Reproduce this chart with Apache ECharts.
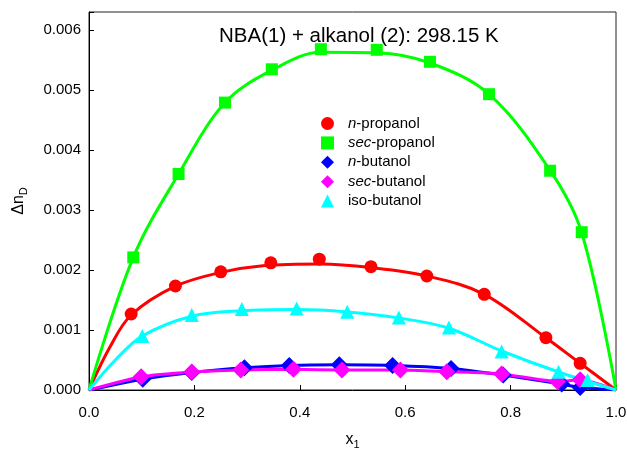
<!DOCTYPE html>
<html>
<head>
<meta charset="utf-8">
<script src="https://cdn.jsdelivr.net/npm/echarts@6/dist/echarts.min.js"></script>
<style>
html,body{margin:0;padding:0;background:#fff;}
#chart{width:627px;height:449px;}
</style>
</head>
<body>
<div id="chart"></div>
<script>
// ---- data ----
const xTicks = [0.0, 0.2, 0.4, 0.6, 0.8, 1.0];
const yTicks = [0.000, 0.001, 0.002, 0.003, 0.004, 0.005, 0.006];

const nPropanolX = [0.080, 0.164, 0.250, 0.345, 0.437, 0.535, 0.641, 0.750, 0.867, 0.932];
const nPropanolY = [0.001267, 0.001733, 0.001970, 0.002120, 0.002180, 0.002055, 0.001900, 0.001595, 0.000872, 0.000445];

const secPropanolX = [0.084, 0.170, 0.258, 0.347, 0.440, 0.546, 0.647, 0.759, 0.875, 0.935];
const secPropanolY = [0.00221, 0.00360, 0.00479, 0.005345, 0.00568, 0.00567, 0.00547, 0.00493, 0.003655, 0.00263];

const nButanolX = [0.102, 0.195, 0.295, 0.380, 0.475, 0.576, 0.687, 0.786, 0.897, 0.932];
const nButanolY = [0.00018, 0.00029, 0.00037, 0.00041, 0.00042, 0.00041, 0.00036, 0.00025, 0.00010, 0.00004];

const secButanolX = [0.099, 0.195, 0.288, 0.388, 0.480, 0.591, 0.679, 0.783, 0.889, 0.932];
const secButanolY = [0.00022, 0.00030, 0.000333, 0.000345, 0.000333, 0.000333, 0.000305, 0.000267, 0.00014, 0.00017];

const isoButanolX = [0.101, 0.195, 0.290, 0.394, 0.490, 0.588, 0.683, 0.783, 0.891, 0.946];
const isoButanolY = [0.00090, 0.00125, 0.00135, 0.00136, 0.001305, 0.00121, 0.00104, 0.00064, 0.000305, 0.000167];

// fitted curves
const fitNPropX = [0, 0.040, 0.080, 0.164, 0.250, 0.330, 0.440, 0.535, 0.641, 0.750, 0.867, 0.932, 1.0];
const fitNPropY = [0, 0.00072, 0.00125, 0.00173, 0.00196, 0.00207, 0.00210, 0.00204, 0.00190, 0.001595, 0.00087, 0.000445, 0];

const fitSecPropX = [0, 0.084, 0.170, 0.258, 0.347, 0.440, 0.546, 0.647, 0.759, 0.875, 0.935, 1.0];
const fitSecPropY = [0, 0.00221, 0.00360, 0.00479, 0.00533, 0.00563, 0.00562, 0.00545, 0.00493, 0.00366, 0.00262, 0];

const fitIsoButX = [0, 0.050, 0.101, 0.195, 0.290, 0.394, 0.490, 0.588, 0.683, 0.783, 0.891, 1.0];
const fitIsoButY = [0, 0.00050, 0.00090, 0.00123, 0.00132, 0.00134, 0.00130, 0.00120, 0.00103, 0.00065, 0.00030, 0];

const names = ['n-propanol', 'sec-propanol', 'n-butanol', 'sec-butanol', 'iso-butanol'];
const italicPrefix = ['n', 'sec', 'n', 'sec', ''];
const colors = ['#ff0000', '#00ff00', '#0000ff', '#ff00ff', '#00ffff'];

function zip(xs, ys) { return xs.map((x, i) => [x, ys[i]]); }
function withEnds(xs, ys) { return [[0, 0]].concat(zip(xs, ys), [[1, 0]]); }

const chart = echarts.init(document.getElementById('chart'), null, {renderer: 'canvas'});

const FONT = 'Liberation Sans, Arial, sans-serif';

function lineSeries(data, color, smooth, z) {
  return {type: 'line', data: data, smooth: smooth, showSymbol: false, symbol: 'none',
    lineStyle: {color: color, width: 3}, z: z, silent: true, legendHoverLink: false};
}
function scatterSeries(name, data, symbol, size, color, z) {
  return {type: 'scatter', name: name, data: data, symbol: symbol, symbolSize: size,
    itemStyle: {color: color, opacity: 1}, z: z};
}

const option = {
  animation: false,
  backgroundColor: '#fff',
  grid: {left: 89, right: 11, top: 12, bottom: 59, containLabel: false, outerBoundsMode: 'none',
    show: true, borderColor: '#222', borderWidth: 1},
  title: {
    text: 'NBA(1) + alkanol (2): 298.15 K',
    left: 214, top: 21,
    textStyle: {fontFamily: FONT, fontSize: 20.5, fontWeight: 'normal', color: '#000'}
  },
  legend: {
    orient: 'vertical', left: 316, top: 111, itemWidth: 13, itemHeight: 13, itemGap: 4.4,
    data: names,
    formatter: function (n) {
      const idx = names.indexOf(n);
      const pre = italicPrefix[idx];
      const rest = pre ? n.slice(pre.length) : n;
      return '{s|}' + (pre ? '{i|' + pre + '}' : '') + '{t|' + rest + '}';
    },
    textStyle: {
      fontFamily: FONT, fontSize: 15, color: '#000',
      rich: {
        s: {width: 9, fontSize: 15, lineHeight: 15},
        i: {fontStyle: 'italic', fontFamily: FONT, fontSize: 15, lineHeight: 15, color: '#000'},
        t: {fontFamily: FONT, fontSize: 15, lineHeight: 15, color: '#000'}
      }
    }
  },
  xAxis: {
    type: 'value', min: 0, max: 1, interval: 0.2,
    name: '{a|x}{b|1}', nameLocation: 'middle', nameGap: 39,
    nameTextStyle: {rich: {a: {fontFamily: FONT, fontSize: 16, color: '#000'}, b: {fontFamily: FONT, fontSize: 11, color: '#000', padding: [10, 0, 0, 0]}}},
    axisLine: {lineStyle: {color: '#000', width: 1}},
    axisTick: {inside: true, length: 5, lineStyle: {color: '#000'}},
    splitLine: {show: false},
    axisLabel: {margin: 15, fontFamily: FONT, fontSize: 15, color: '#000',
      formatter: function (v) { return xTicks.some(t => Math.abs(t - v) < 1e-9) ? v.toFixed(1) : ''; }}
  },
  yAxis: {
    type: 'value', min: 0, max: 0.0063, interval: 0.001,
    name: '{a|Δn}{b|D}', nameLocation: 'middle', nameGap: 60, nameRotate: 90,
    nameTextStyle: {rich: {a: {fontFamily: FONT, fontSize: 16, color: '#000'}, b: {fontFamily: FONT, fontSize: 11, color: '#000', padding: [10, 0, 0, 0]}}},
    axisLine: {show: true, lineStyle: {color: '#000', width: 1}},
    axisTick: {show: true, inside: true, length: 5, lineStyle: {color: '#000'}},
    splitLine: {show: false},
    axisLabel: {margin: 8, fontFamily: FONT, fontSize: 15, color: '#000',
      formatter: function (v) { return yTicks.some(t => Math.abs(t - v) < 1e-9) ? v.toFixed(3) : ''; }}
  },
  series: [
    lineSeries(zip(fitNPropX, fitNPropY), colors[0], 0.35, 2),
    lineSeries(zip(fitSecPropX, fitSecPropY), colors[1], 0.35, 2),
    lineSeries(withEnds(nButanolX, nButanolY), colors[2], 0.2, 2),
    lineSeries(withEnds(secButanolX, secButanolY), colors[3], 0.2, 2),
    lineSeries(zip(fitIsoButX, fitIsoButY), colors[4], 0.35, 2),
    scatterSeries(names[0], zip(nPropanolX, nPropanolY), 'circle', 13, colors[0], 3),
    scatterSeries(names[1], zip(secPropanolX, secPropanolY), 'rect', 12, colors[1], 3),
    scatterSeries(names[2], zip(nButanolX, nButanolY), 'diamond', 17, colors[2], 3),
    scatterSeries(names[3], zip(secButanolX, secButanolY), 'diamond', 17, colors[3], 3),
    scatterSeries(names[4], zip(isoButanolX, isoButanolY), 'triangle', 14, colors[4], 3)
  ]
};
chart.setOption(option);
</script>
</body>
</html>
